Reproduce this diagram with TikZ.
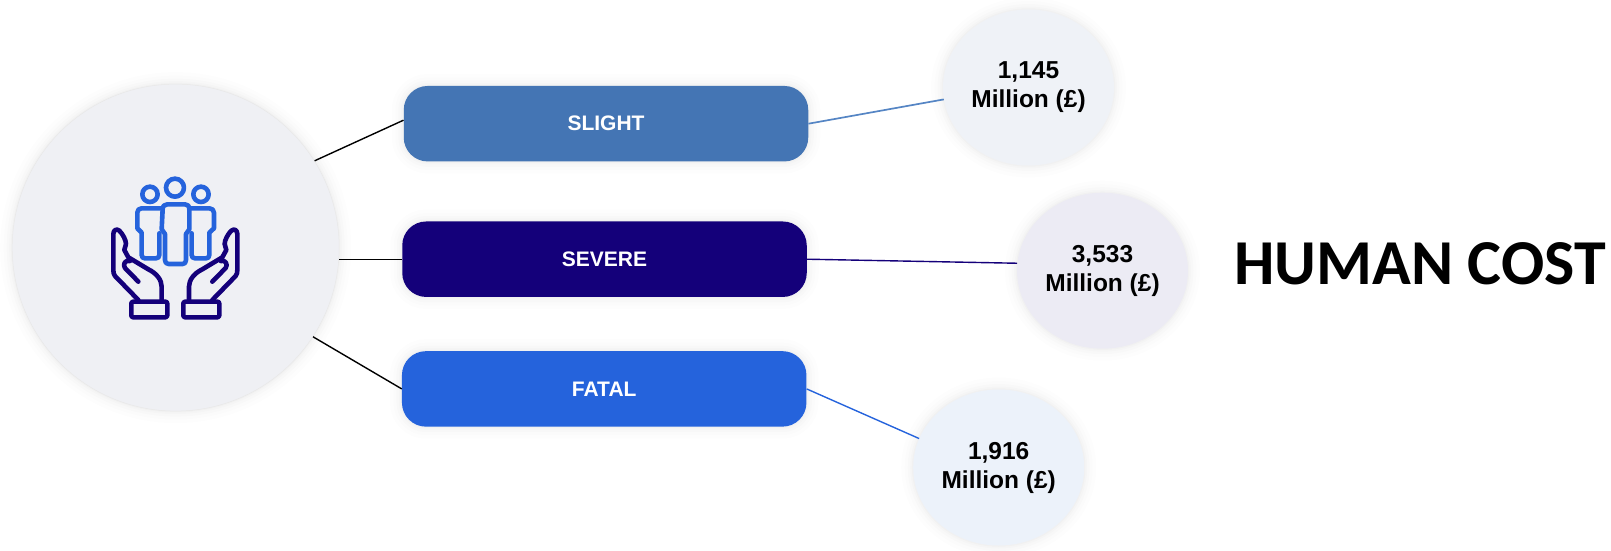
\documentclass[tikz,border=0pt]{standalone}
\usepackage{fontspec}
\setmainfont{Liberation Sans}
\newfontfamily\headfont{Carlito}
\usetikzlibrary{calc,shapes.geometric}
\definecolor{cslight}{HTML}{4475B4}
\definecolor{cslightline}{HTML}{5585C4}
\definecolor{csevere}{HTML}{14007A}
\definecolor{cfatal}{HTML}{2563DC}
\definecolor{cbig}{HTML}{EFF0F4}
\definecolor{cA}{HTML}{EFF2F7}
\definecolor{cB}{HTML}{ECEBF4}
\definecolor{cC}{HTML}{ECF2FA}
\newcommand{\valtext}[2]{\raisebox{-1pt}{#1}\\\raisebox{-1pt}{#2}}
\tikzset{
  softshadow/.style={
    preaction={draw=black,draw opacity=.007,line width=24pt},
    preaction={draw=black,draw opacity=.009,line width=17pt},
    preaction={draw=black,draw opacity=.011,line width=11pt},
    preaction={draw=black,draw opacity=.013,line width=6pt},
    preaction={draw=black,draw opacity=.016,line width=2.5pt}},
  catbox/.style={softshadow,rounded corners=24pt,minimum width=404.5pt,minimum height=75.5pt,inner sep=0pt,
    text=white,font=\fontsize{21}{24}\selectfont\bfseries},
  valnode/.style={softshadow,ellipse,minimum width=171pt,minimum height=156pt,inner sep=0pt,align=center,
    text=black,font=\fontsize{24.5}{29}\selectfont\bfseries},
  link/.style={line width=1.4pt},
  iconline/.style={line width=4.6pt,line join=round,line cap=round}
}
\begin{document}
\begin{tikzpicture}[x=1pt,y=-1pt]
\useasboundingbox (0,0) rectangle (1611,551);
\node[softshadow,circle,fill=cbig,draw=black!9,line width=.5pt,minimum size=327pt,inner sep=0pt] (hub) at (175.7,247.6) {};
\node[catbox,fill=cslight] (slight) at (606,123.7) {\raisebox{-1pt}{SLIGHT}};
\node[catbox,fill=csevere] (severe) at (604.5,259.2) {\raisebox{-1.5pt}{SEVERE}};
\node[catbox,fill=cfatal] (fatal) at (604.2,388.9) {\raisebox{-1.5pt}{FATAL}};
\node[valnode,fill=cA] (vA) at (1028.5,87.5) {\valtext{1,145}{Million (£)}};
\node[valnode,fill=cB] (vB) at (1102.5,270.7) {\valtext{3,533}{Million (£)}};
\node[valnode,fill=cC] (vC) at (998.7,467.5) {\valtext{1,916}{Million (£)}};
\node[font=\headfont\fontsize{64}{66}\selectfont\bfseries,anchor=center,inner sep=0pt] (title) at (1420,264) {HUMAN COST};
\draw[link,black] (hub.32) -- (slight.179.4);
\draw[link,black] (hub.east |- severe.west) -- (severe.west);
\draw[link,black] (hub.-33) -- (fatal.west);
\draw[link,cslightline,line width=1.7pt] (slight.-0.5) -- (vA.188);
\draw[link,csevere] (severe.east) -- (vB.175);
\draw[link,cfatal] (fatal.east) -- (vC.160);
\begin{scope}[shift={(90,160)},x=0.3333pt,y=-0.3333pt]
  \begin{scope}[iconline,draw=cfatal]
    \draw (180,103) circle[radius=23];
    \draw (255,83) circle[radius=27];
    \draw (333,103) circle[radius=23];
    \draw (218,148) .. controls (218,138) and (224,133) .. (232,133) -- (285,133) .. controls (293,133) and (298,138) .. (298,148) -- (298,208) -- (288,222) -- (288,300) .. controls (288,308) and (284,312) .. (278,312) -- (236,312) .. controls (229,312) and (225,308) .. (225,300) -- (225,222) -- (215,208) -- cycle;
    \draw (216,145) -- (155,145) .. controls (147,145) and (142,150) .. (142,158) -- (142,205) -- (155,218) -- (155,285) .. controls (155,292) and (159,295) .. (165,295) -- (198,295) .. controls (204,295) and (208,291) .. (208,285) -- (208,220);
    \draw (298,145) -- (358,145) .. controls (366,145) and (372,150) .. (372,158) -- (372,205) -- (358,218) -- (358,285) .. controls (358,292) and (354,295) .. (348,295) -- (315,295) .. controls (309,295) and (305,291) .. (305,285) -- (305,220);
  \end{scope}
  \begin{scope}[iconline,draw=csevere]
    \foreach \s/\o in {1/0,-1/512}{
      \begin{scope}[shift={(\o,0)},xscale=\s]
        \draw (145,420) -- (75,348) .. controls (71,342) and (70,338) .. (70,330) -- (70,222) .. controls (70,210) and (80,205) .. (88,212) .. controls (98,222) and (108,240) .. (108,252) -- (103,270) -- (115,292) -- (175,328) .. controls (200,340) and (215,360) .. (215,380) -- (215,425);
        \draw (145,365) -- (105,324) .. controls (97,314) and (106,298) .. (120,303);
        \draw[rounded corners=2pt] (124,425) rectangle (232,472);
      \end{scope}
    }
  \end{scope}
\end{scope}
\end{tikzpicture}
\end{document}
